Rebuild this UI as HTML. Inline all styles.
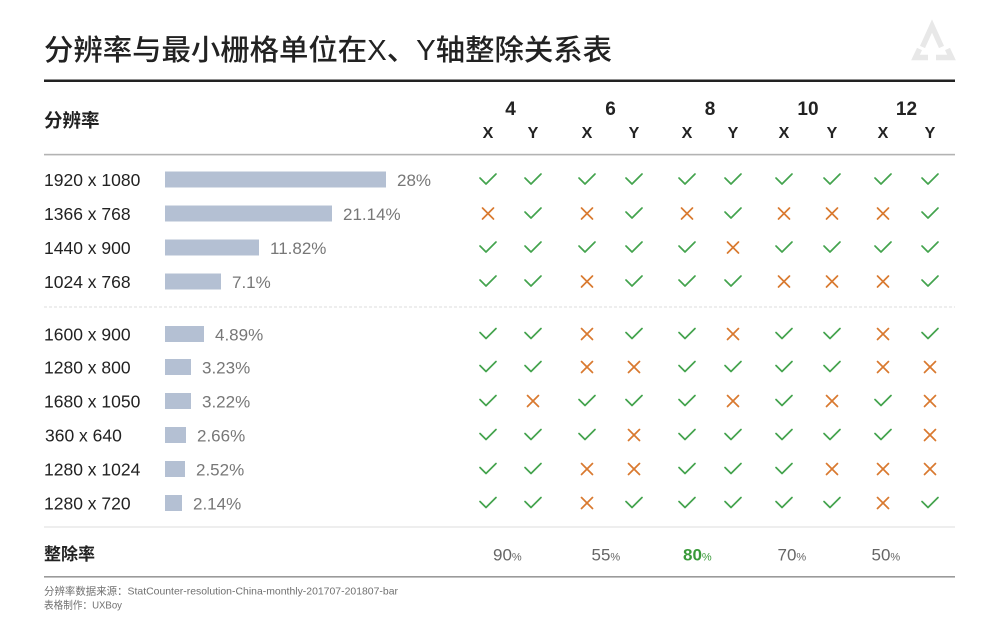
<!DOCTYPE html>
<html>
<head>
<meta charset="utf-8">
<style>
  html, body { margin: 0; padding: 0; background: #ffffff; }
  body { width: 1000px; height: 642px; overflow: hidden; }
  svg { display: block; }
  text { font-family: "Liberation Sans", "Noto Sans CJK SC", sans-serif; }
</style>
</head>
<body>
<svg width="1000" height="642" viewBox="0 0 1000 642" xmlns="http://www.w3.org/2000/svg">
  <defs>
    <g id="c"><path d="M-8,-1.5 L-2,4.5 L8,-5.5" fill="none" stroke="#43a34d" stroke-width="1.7" stroke-linecap="round" stroke-linejoin="round"/></g>
    <g id="x"><path d="M-5.5,-5.5 L5.5,5.5 M5.5,-5.5 L-5.5,5.5" fill="none" stroke="#d9792f" stroke-width="1.7" stroke-linecap="round"/></g>
  </defs>
  <rect width="1000" height="642" fill="#ffffff"/>

  <!-- Title -->
  <text x="44" y="60" font-size="29" font-weight="500" fill="#222" textLength="568" lengthAdjust="spacingAndGlyphs">分辨率与最小栅格单位在X、Y轴整除关系表</text>

  <!-- Logo -->
  <g fill="none" stroke="#e8e8e8" stroke-width="5.5" stroke-linejoin="miter">
    <polyline points="922.5,47 932,26 941.5,47"/>
    <polyline points="919.5,49 915.5,57.5 928,57.5"/>
    <polyline points="936,57.5 951.5,57.5 947.5,49"/>
  </g>

  <!-- Title rule -->
  <rect x="44" y="79.5" width="911" height="2.5" fill="#222"/>

  <!-- Header -->
  <text x="44" y="127" font-size="18.5" font-weight="bold" fill="#222">分辨率</text>
  <g font-size="19" font-weight="bold" fill="#222" text-anchor="middle">
    <text x="510.5" y="115">4</text>
    <text x="610.5" y="115">6</text>
    <text x="710" y="115">8</text>
    <text x="808" y="115">10</text>
    <text x="906.5" y="115">12</text>
  </g>
  <g font-size="16" font-weight="bold" fill="#222" text-anchor="middle">
    <text x="488" y="138">X</text><text x="533" y="138">Y</text>
    <text x="587" y="138">X</text><text x="634" y="138">Y</text>
    <text x="687" y="138">X</text><text x="733" y="138">Y</text>
    <text x="784" y="138">X</text><text x="832" y="138">Y</text>
    <text x="883" y="138">X</text><text x="930" y="138">Y</text>
  </g>
  <rect x="44" y="153.8" width="911" height="1.6" fill="#b3b3b3"/>

  <!-- Dashed separator -->
  <line x1="44" y1="307" x2="955" y2="307" stroke="#dcdcdc" stroke-width="1" stroke-dasharray="3,2"/>

  <!-- Row labels -->
  <g font-size="17.5" fill="#222">
    <text x="44" y="186">1920 x 1080</text>
    <text x="44" y="220">1366 x 768</text>
    <text x="44" y="254">1440 x 900</text>
    <text x="44" y="288">1024 x 768</text>
    <text x="44" y="340.5">1600 x 900</text>
    <text x="44" y="373.5">1280 x 800</text>
    <text x="44" y="407.5">1680 x 1050</text>
    <text x="45" y="441.5">360 x 640</text>
    <text x="44" y="475.5">1280 x 1024</text>
    <text x="44" y="509.5">1280 x 720</text>
  </g>

  <!-- Bars -->
  <g fill="#b4c0d3">
    <rect x="165" y="171.5" width="221" height="16"/>
    <rect x="165" y="205.5" width="167" height="16"/>
    <rect x="165" y="239.5" width="94" height="16"/>
    <rect x="165" y="273.5" width="56" height="16"/>
    <rect x="165" y="326" width="39" height="16"/>
    <rect x="165" y="359" width="26" height="16"/>
    <rect x="165" y="393" width="26" height="16"/>
    <rect x="165" y="427" width="21" height="16"/>
    <rect x="165" y="461" width="20" height="16"/>
    <rect x="165" y="495" width="17" height="16"/>
  </g>

  <!-- Bar percentages -->
  <g font-size="17" fill="#777">
    <text x="397" y="186">28%</text>
    <text x="343" y="220">21.14%</text>
    <text x="270" y="254">11.82%</text>
    <text x="232" y="288">7.1%</text>
    <text x="215" y="340.5">4.89%</text>
    <text x="202" y="373.5">3.23%</text>
    <text x="202" y="407.5">3.22%</text>
    <text x="197" y="441.5">2.66%</text>
    <text x="196" y="475.5">2.52%</text>
    <text x="193" y="509.5">2.14%</text>
  </g>

  <!-- Grid marks -->
  <use href="#c" x="488" y="179.5"/><use href="#c" x="533" y="179.5"/>
  <use href="#c" x="587" y="179.5"/><use href="#c" x="634" y="179.5"/>
  <use href="#c" x="687" y="179.5"/><use href="#c" x="733" y="179.5"/>
  <use href="#c" x="784" y="179.5"/><use href="#c" x="832" y="179.5"/>
  <use href="#c" x="883" y="179.5"/><use href="#c" x="930" y="179.5"/>

  <use href="#x" x="488" y="213.5"/><use href="#c" x="533" y="213.5"/>
  <use href="#x" x="587" y="213.5"/><use href="#c" x="634" y="213.5"/>
  <use href="#x" x="687" y="213.5"/><use href="#c" x="733" y="213.5"/>
  <use href="#x" x="784" y="213.5"/><use href="#x" x="832" y="213.5"/>
  <use href="#x" x="883" y="213.5"/><use href="#c" x="930" y="213.5"/>

  <use href="#c" x="488" y="247.5"/><use href="#c" x="533" y="247.5"/>
  <use href="#c" x="587" y="247.5"/><use href="#c" x="634" y="247.5"/>
  <use href="#c" x="687" y="247.5"/><use href="#x" x="733" y="247.5"/>
  <use href="#c" x="784" y="247.5"/><use href="#c" x="832" y="247.5"/>
  <use href="#c" x="883" y="247.5"/><use href="#c" x="930" y="247.5"/>

  <use href="#c" x="488" y="281.5"/><use href="#c" x="533" y="281.5"/>
  <use href="#x" x="587" y="281.5"/><use href="#c" x="634" y="281.5"/>
  <use href="#c" x="687" y="281.5"/><use href="#c" x="733" y="281.5"/>
  <use href="#x" x="784" y="281.5"/><use href="#x" x="832" y="281.5"/>
  <use href="#x" x="883" y="281.5"/><use href="#c" x="930" y="281.5"/>

  <use href="#c" x="488" y="334"/><use href="#c" x="533" y="334"/>
  <use href="#x" x="587" y="334"/><use href="#c" x="634" y="334"/>
  <use href="#c" x="687" y="334"/><use href="#x" x="733" y="334"/>
  <use href="#c" x="784" y="334"/><use href="#c" x="832" y="334"/>
  <use href="#x" x="883" y="334"/><use href="#c" x="930" y="334"/>

  <use href="#c" x="488" y="367"/><use href="#c" x="533" y="367"/>
  <use href="#x" x="587" y="367"/><use href="#x" x="634" y="367"/>
  <use href="#c" x="687" y="367"/><use href="#c" x="733" y="367"/>
  <use href="#c" x="784" y="367"/><use href="#c" x="832" y="367"/>
  <use href="#x" x="883" y="367"/><use href="#x" x="930" y="367"/>

  <use href="#c" x="488" y="401"/><use href="#x" x="533" y="401"/>
  <use href="#c" x="587" y="401"/><use href="#c" x="634" y="401"/>
  <use href="#c" x="687" y="401"/><use href="#x" x="733" y="401"/>
  <use href="#c" x="784" y="401"/><use href="#x" x="832" y="401"/>
  <use href="#c" x="883" y="401"/><use href="#x" x="930" y="401"/>

  <use href="#c" x="488" y="435"/><use href="#c" x="533" y="435"/>
  <use href="#c" x="587" y="435"/><use href="#x" x="634" y="435"/>
  <use href="#c" x="687" y="435"/><use href="#c" x="733" y="435"/>
  <use href="#c" x="784" y="435"/><use href="#c" x="832" y="435"/>
  <use href="#c" x="883" y="435"/><use href="#x" x="930" y="435"/>

  <use href="#c" x="488" y="469"/><use href="#c" x="533" y="469"/>
  <use href="#x" x="587" y="469"/><use href="#x" x="634" y="469"/>
  <use href="#c" x="687" y="469"/><use href="#c" x="733" y="469"/>
  <use href="#c" x="784" y="469"/><use href="#x" x="832" y="469"/>
  <use href="#x" x="883" y="469"/><use href="#x" x="930" y="469"/>

  <use href="#c" x="488" y="503"/><use href="#c" x="533" y="503"/>
  <use href="#x" x="587" y="503"/><use href="#c" x="634" y="503"/>
  <use href="#c" x="687" y="503"/><use href="#c" x="733" y="503"/>
  <use href="#c" x="784" y="503"/><use href="#c" x="832" y="503"/>
  <use href="#x" x="883" y="503"/><use href="#c" x="930" y="503"/>

  <!-- Summary row -->
  <rect x="44" y="526" width="911" height="2" fill="#eeeeee"/>
  <text x="44" y="560" font-size="17" font-weight="bold" fill="#222">整除率</text>
  <g font-size="17" fill="#666">
    <text x="493" y="560.5">90<tspan font-size="11">%</tspan></text>
    <text x="591.5" y="560.5">55<tspan font-size="11">%</tspan></text>
    <text x="683" y="560.5" fill="#3a9a3a" font-weight="bold">80<tspan font-size="11" font-weight="normal">%</tspan></text>
    <text x="777.5" y="560.5">70<tspan font-size="11">%</tspan></text>
    <text x="871.5" y="560.5">50<tspan font-size="11">%</tspan></text>
  </g>
  <rect x="44" y="576" width="911" height="1.6" fill="#9a9a9a"/>

  <!-- Footer -->
  <text x="44" y="594.5" font-size="10.5" fill="#707070" textLength="354" lengthAdjust="spacingAndGlyphs">分辨率数据来源：StatCounter-resolution-China-monthly-201707-201807-bar</text>
  <text x="44" y="608.5" font-size="10.5" fill="#707070" textLength="78" lengthAdjust="spacingAndGlyphs">表格制作：UXBoy</text>
</svg>
</body>
</html>
